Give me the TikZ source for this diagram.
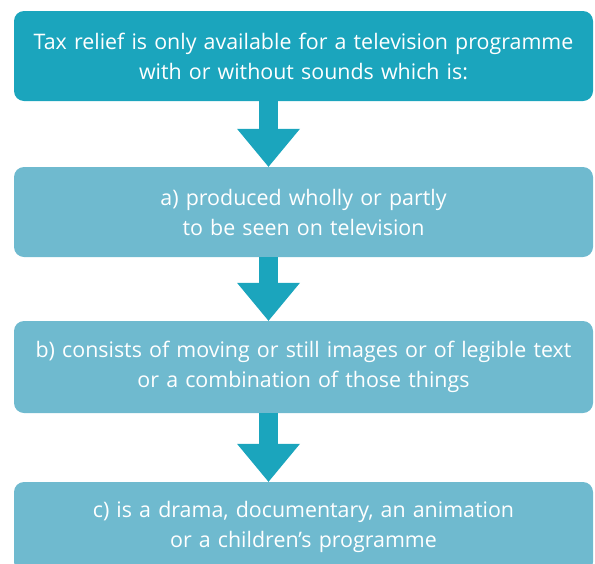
\documentclass[tikz,border=0pt]{standalone}
\usepackage{fontspec}
\setmainfont{Open Sans}
\usepackage{xcolor}
\usetikzlibrary{arrows.meta}
\definecolor{headteal}{HTML}{1BA5BD}
\definecolor{boxteal}{HTML}{6FBACF}
\tikzstyle{box} = [fill=boxteal, text=white, rounded corners=10pt, text width=569pt, inner xsep=5pt, inner ysep=0pt, minimum height=90pt, align=center, font=\fontsize{21.4}{30}\selectfont]
\tikzstyle{headbox} = [box, fill=headteal]
\tikzstyle{flow} = [draw=headteal, line width=19pt, -{Triangle[width=63pt, length=38pt, line width=0pt]}]

\begin{document}
\begin{tikzpicture}[x=1pt, y=1pt] % one unit is one pixel of the page
    \useasboundingbox (0,0) rectangle (595,-563);
    \clip (0,0) rectangle (595,-563);
    \node[headbox] (intro) at (303.5,-56)
        {Tax relief is only available for a television programme\\with or without sounds which is:};
    \node[box] (parta) at (303.5,-212)
        {a) produced wholly or partly\\to be seen on television};
    \node[box, minimum height=92pt] (partb) at (303.5,-367)
        {b) consists of moving or still images or of legible text\\or a combination of those things};
    \node[box] (partc) at (303.5,-527)
        {c) is a drama, documentary, an animation\\or a children’s programme};
    \draw[flow] ([xshift=-35pt]intro.south) -- ([xshift=-35pt]parta.north);
    \draw[flow] ([xshift=-35pt]parta.south) -- ([xshift=-35pt]partb.north);
    \draw[flow] ([xshift=-35pt]partb.south) -- ([xshift=-35pt]partc.north);
\end{tikzpicture}
\end{document}
